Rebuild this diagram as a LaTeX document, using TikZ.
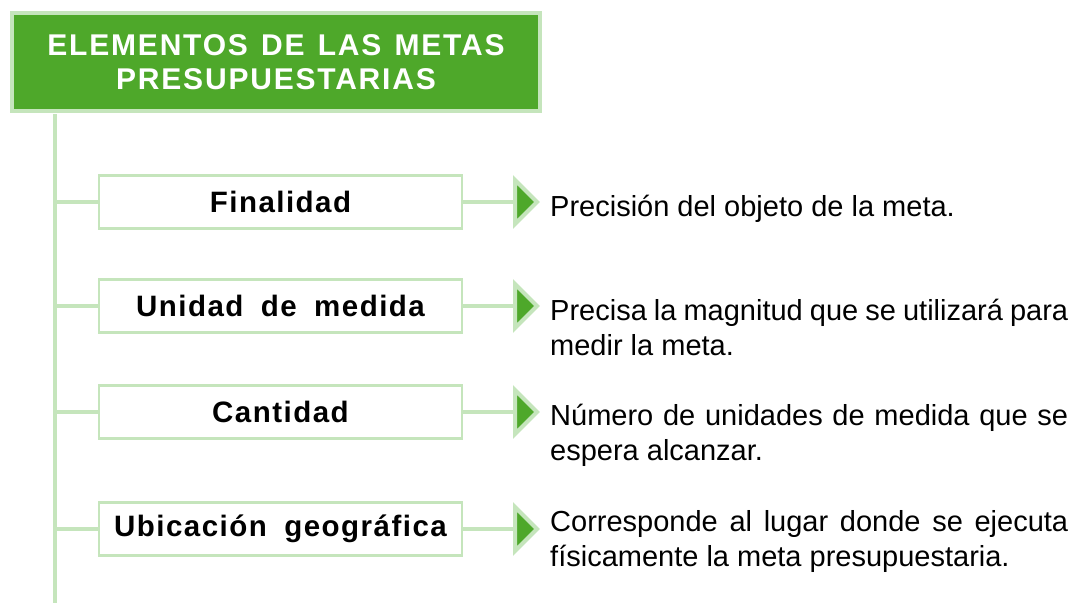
\documentclass[tikz,border=0pt]{standalone}
\usepackage{fontspec}
\setmainfont{Liberation Sans}
\newfontfamily\boldsp[LetterSpace=5,WordSpace=1.8]{Liberation Sans Bold}
\newfontfamily\titlesp[LetterSpace=6,WordSpace=1.3]{Liberation Sans Bold}
\definecolor{dg}{HTML}{4EA82A}
\definecolor{lg}{HTML}{C5E5BC}
\begin{document}
\begin{tikzpicture}[x=1pt,y=-1pt,
  conn/.style={lg,line width=3.5pt},
  itembox/.style={draw=lg,line width=2.5pt,fill=white,minimum width=363pt,minimum height=53pt,inner sep=0pt,font=\boldsp\fontsize{29.5}{34}\selectfont},
  desc/.style={anchor=base west,align=left,inner sep=0pt,font=\fontsize{29}{35}\selectfont},
  tri/.style={draw=lg,fill=dg,line width=4pt,line join=miter}]
\useasboundingbox (0,0) rectangle (1083,603);
\node[draw=lg,fill=dg,line width=4pt,minimum width=528pt,minimum height=98pt,inner sep=0pt,align=center,text=white,font=\titlesp\fontsize{30}{34}\selectfont] (title) at (276,62) {ELEMENTOS DE LAS METAS\\PRESUPUESTARIAS};
\coordinate (top) at (55,114);
\coordinate (bot) at (55,603);
\draw[conn] (top) -- (bot);
\foreach \n/\y/\lab in {a/202/Finalidad, b/306/Unidad de medida, c/412/Cantidad, d/529/Ubicación geográfica}{
  \node[itembox] (\n) at (280.5,\y) {\lab};
  \coordinate (t\n) at (55,\y);
  \coordinate (e\n) at (516,\y);
  \draw[conn] (t\n) -- (\n.west);
  \draw[conn] (\n.east) -- (e\n);
  \draw[tri] (515,\y-22) -- (537,\y) -- (515,\y+22) -- cycle;
}
\node[desc] (da) at (550,216) {Precisión del objeto de la meta.};
\node[desc] (db) at (550,355) {\makebox[518pt][s]{Precisa la magnitud que se utilizará para}\\medir la meta.};
\node[desc] (dc) at (550,460) {\makebox[518pt][s]{Número de unidades de medida que se}\\espera alcanzar.};
\node[desc] (dd) at (550,566) {\makebox[518pt][s]{Corresponde al lugar donde se ejecuta}\\físicamente la meta presupuestaria.};
\end{tikzpicture}
\end{document}
